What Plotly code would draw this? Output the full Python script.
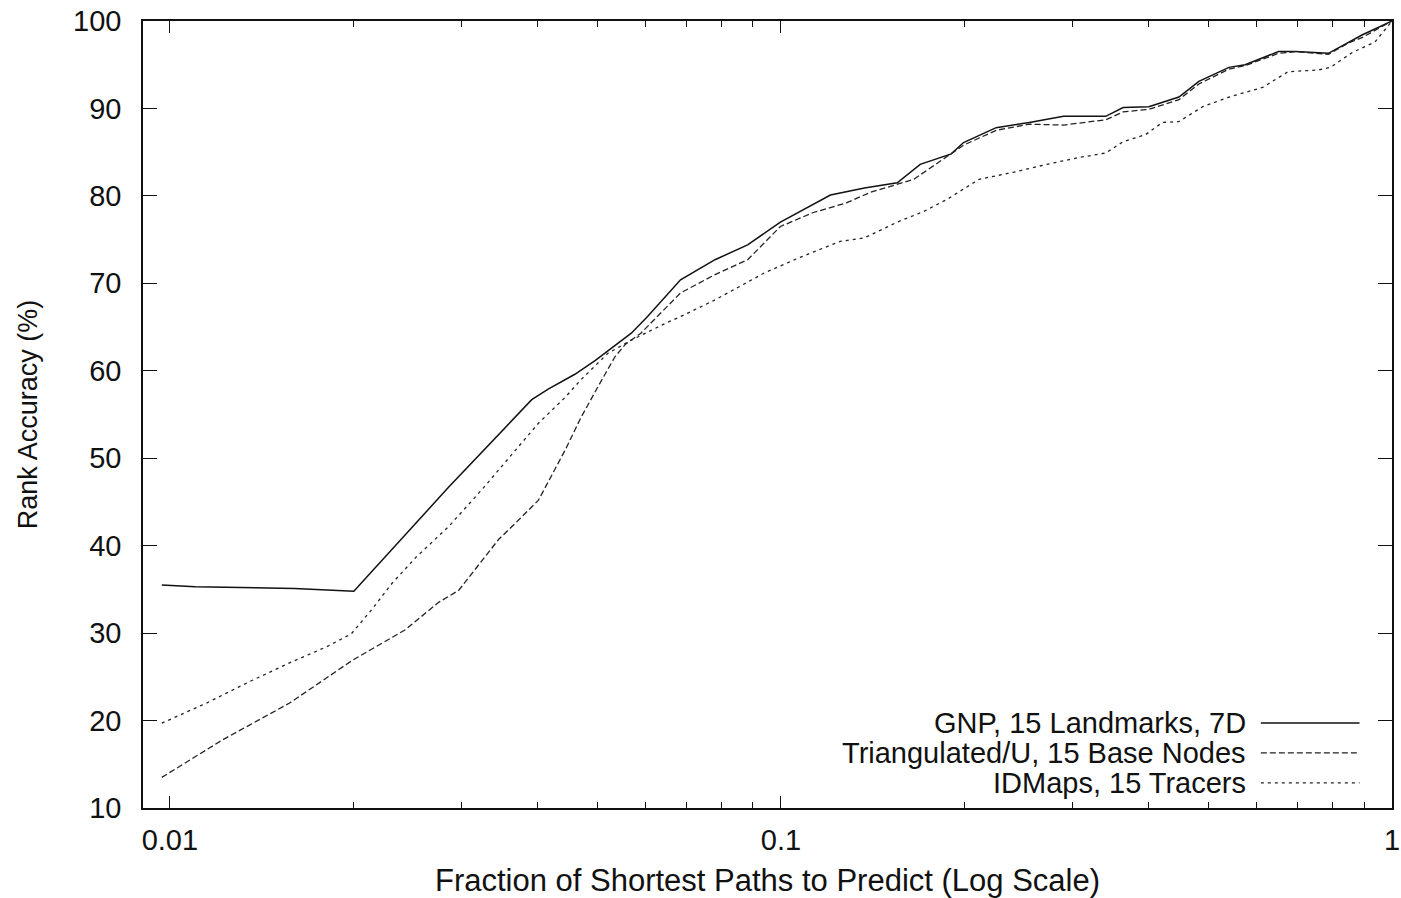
import plotly.graph_objects as go

# ---- data ----
gnp_x = [0.0097, 0.011, 0.016, 0.018, 0.02, 0.0286, 0.0391, 0.0416, 0.046, 0.0497, 0.0569,
         0.0605, 0.0685, 0.078, 0.0882, 0.0998, 0.1205, 0.137, 0.155, 0.169, 0.19, 0.199,
         0.225, 0.255, 0.29, 0.34, 0.363, 0.40, 0.448, 0.483, 0.541, 0.575, 0.652, 0.695,
         0.787, 0.893, 1.0]
gnp_y = [35.5, 35.3, 35.1, 34.9, 34.8, 46.7, 56.7, 57.9, 59.6, 61.2, 64.3,
         66.2, 70.4, 72.7, 74.4, 77.0, 80.1, 80.9, 81.5, 83.6, 84.8, 86.1,
         87.8, 88.4, 89.1, 89.1, 90.1, 90.2, 91.3, 93.1, 94.7, 95.0, 96.5, 96.5,
         96.3, 98.4, 100.0]

tri_x = [0.0097, 0.0122, 0.0157, 0.0199, 0.0243, 0.0275, 0.0297, 0.0345, 0.0368, 0.0401,
         0.0444, 0.0471, 0.0502, 0.0535, 0.0556, 0.059, 0.0685, 0.078, 0.0882, 0.0998,
         0.113, 0.128, 0.140, 0.155, 0.165, 0.187, 0.199, 0.225, 0.255, 0.29, 0.34, 0.363,
         0.40, 0.448, 0.483, 0.541, 0.575, 0.652, 0.695, 0.787, 0.85, 0.893, 1.0]
tri_y = [13.5, 17.8, 22.0, 26.9, 30.4, 33.5, 34.9, 40.7, 42.6, 45.2,
         51.0, 54.7, 58.2, 61.6, 63.0, 64.3, 68.9, 71.0, 72.7, 76.5,
         78.1, 79.2, 80.4, 81.3, 81.9, 84.5, 85.8, 87.5, 88.2, 88.1, 88.7, 89.6,
         89.9, 91.0, 92.8, 94.5, 94.9, 96.3, 96.5, 96.2, 97.5, 98.1, 100.0]

idm_x = [0.0097, 0.01148, 0.01336, 0.0157, 0.018, 0.0198, 0.0214, 0.0231, 0.0253, 0.0286,
         0.0324, 0.0368, 0.0401, 0.0444, 0.0471, 0.0521, 0.0569, 0.0646, 0.0685, 0.078,
         0.094, 0.1077, 0.125, 0.137, 0.155, 0.171, 0.187, 0.211, 0.240, 0.272, 0.308,
         0.340, 0.363, 0.395, 0.421, 0.448, 0.490, 0.541, 0.614, 0.676, 0.757, 0.793,
         0.861, 0.938, 1.0]
idm_y = [19.7, 22.0, 24.3, 26.6, 28.4, 29.9, 32.7, 35.7, 38.7, 42.2,
         46.4, 51.0, 54.0, 57.0, 59.0, 62.0, 63.5, 65.4, 66.2, 68.1,
         71.2, 73.0, 74.8, 75.2, 77.0, 78.2, 79.6, 81.9, 82.7, 83.6, 84.4,
         84.9, 86.2, 87.0, 88.4, 88.5, 90.2, 91.3, 92.4, 94.2, 94.4, 94.7,
         96.4, 97.6, 100.0]

series_names = ["GNP, 15 Landmarks, 7D",
                "Triangulated/U, 15 Base Nodes",
                "IDMaps, 15 Tracers"]

x_major = [0.01, 0.1, 1]
x_major_text = ["0.01", "0.1", "1"]
x_minor = [0.02, 0.03, 0.04, 0.05, 0.06, 0.07, 0.08, 0.09,
           0.2, 0.3, 0.4, 0.5, 0.6, 0.7, 0.8, 0.9]
y_ticks = [10, 20, 30, 40, 50, 60, 70, 80, 90, 100]

x_title = "Fraction of Shortest Paths to Predict (Log Scale)"
y_title = "Rank Accuracy (%)"

# ---- styles ----
FONT = "Liberation Sans, Arial, Helvetica, sans-serif"
styles = [dict(color="#111111", width=1.5, dash="solid"),
          dict(color="#222222", width=1.3, dash="6px,3px"),
          dict(color="#222222", width=1.3, dash="3px,4px")]

fig = go.Figure()
for xs, ys, name, st in zip([gnp_x, tri_x, idm_x], [gnp_y, tri_y, idm_y], series_names, styles):
    fig.add_trace(go.Scatter(x=xs, y=ys, mode="lines", name=name, line=st,
                             showlegend=False))

# custom gnuplot-style legend (text on the left, sample line on the right)
leg_y = [0.108, 0.070, 0.032]
for name, st, yy in zip(series_names, styles, leg_y):
    fig.add_annotation(x=0.885, y=yy, xref="paper", yref="paper", text=name,
                       showarrow=False, xanchor="right", yanchor="middle",
                       font=dict(family=FONT, size=29, color="#111"))
    fig.add_shape(type="line", xref="paper", yref="paper",
                  x0=0.895, x1=0.974, y0=yy, y1=yy, line=st)

fig.update_xaxes(type="log", range=[-2.044, 0], automargin=False,
                 tickmode="array", tickvals=x_major, ticktext=x_major_text,
                 ticks="inside", ticklen=12, tickwidth=1.3, tickcolor="#111",
                 minor=dict(tickmode="array", tickvals=x_minor, ticks="inside",
                            ticklen=6, tickwidth=1.2, tickcolor="#111", showgrid=False),
                 showline=True, linecolor="#111", linewidth=1.6, mirror="ticks",
                 showgrid=False, zeroline=False,
                 tickfont=dict(family=FONT, size=29, color="#111"),
                 ticklabelstandoff=5, ticklabeloverflow="allow",
                 title=dict(text=x_title, font=dict(family=FONT, size=31, color="#111"),
                            standoff=18))
fig.update_yaxes(range=[10, 100], tickmode="array", tickvals=y_ticks, automargin=False,
                 ticks="inside", ticklen=14, tickwidth=1.3, tickcolor="#111",
                 showline=True, linecolor="#111", linewidth=1.6, mirror="ticks",
                 showgrid=False, zeroline=False,
                 tickfont=dict(family=FONT, size=29, color="#111"),
                 ticklabelstandoff=14,
                 title=dict(text=y_title, font=dict(family=FONT, size=27, color="#111"),
                            standoff=28))

fig.update_layout(width=1401, height=898,
                  margin=dict(l=143, r=9, t=21, b=90, autoexpand=False),
                  paper_bgcolor="white", plot_bgcolor="white",
                  font=dict(family=FONT, color="#111"))

fig.write_html("out.html")
